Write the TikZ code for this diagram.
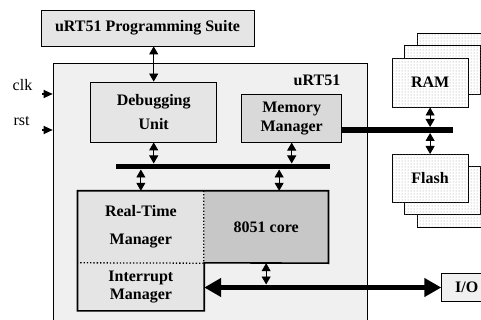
\documentclass[tikz,border=0pt]{standalone}
\usepackage{fontspec}
\setmainfont{Liberation Serif}
\usetikzlibrary{arrows.meta,patterns}

\begin{document}
\begin{tikzpicture}[x=1pt, y=-1pt, font=\fontsize{16}{18}\selectfont\bfseries,
  box/.style = {draw, line width=0.8pt, inner sep=0pt, align=center},
  part/.style = {inner sep=0pt, align=center, minimum width=126.3pt},
  chip/.style = {draw, line width=0.8pt, fill=white, postaction={pattern=dots, pattern color=black!40},
                 minimum width=76pt, minimum height=49pt, inner sep=0pt, anchor=north west},
  link/.style = {line width=0.8pt, {Triangle[width=9pt,length=8pt]}-{Triangle[width=9pt,length=8pt]}},
  bus/.style = {line width=5.5pt},
  pin/.style = {line width=1.2pt, -{Triangle[width=8pt,length=9pt]}}]
\clip (0,0) rectangle (481,320);

\node[box, fill=black!10, minimum width=213pt, minimum height=36pt] (suite) at (147.5,28) {uRT51 Programming Suite};

% the uRT51 frame
\node[draw, line width=1.6pt, fill=black!6, minimum width=314pt, minimum height=280pt, anchor=north west] (urt) at (52.7,62.7) {};
\node (title) at (317,80) {uRT51};
\node[box, fill=black!10, minimum width=126pt, minimum height=60pt] (debug) at (153.7,112) {Debugging\\[6pt]Unit};
\node[box, fill=black!15, minimum width=100pt, minimum height=48pt] (mem) at (291.7,118.2) {Memory\\[1pt]Manager};

\node[part, fill=black!11, minimum height=72pt] (rtm) at (140.85,227) {Real-Time\\[10pt]Manager};
\node[part, fill=black!22, minimum width=124.3pt, minimum height=72pt] (core) at (266.15,227) {8051 core};
\node[part, fill=black!10, minimum height=47.7pt] (irq) at (140.85,286.85) {Interrupt\\Manager};
\draw[line width=1.6pt] (rtm.north west) -- (core.north east) -- (core.south east) -- (irq.north east)
  -- (irq.south east) -- (irq.south west) -- cycle;
\draw[dotted, line width=1.3pt] (core.north west) -- (core.south west) -- (irq.north west);

% inputs
\node[font=\fontsize{16}{18}\selectfont] (clk) at (22.5,85) {clk};
\node[font=\fontsize{16}{18}\selectfont] (rst) at (21.5,121) {rst};
\coordinate (clkin) at (42,94);
\coordinate (rstin) at (42,130);
\draw[pin] (clkin) -- (clkin -| urt.west);
\draw[pin] (rstin) -- (rstin -| urt.west);

% memories
\node[chip] (ram3) at (416.7,33.3) {};
\node[chip] (ram2) at (404.3,45.5) {};
\node[chip] (ram) at (391.7,57.7) {RAM};
\node[chip, minimum height=48pt] (flash3) at (416.7,178.5) {};
\node[chip, minimum height=48pt] (flash2) at (404.3,166.2) {};
\node[chip, minimum height=48pt] (flash) at (391.7,154) {Flash};

\node[box, fill=black!6, minimum width=50pt, minimum height=28.5pt] (io) at (466.7,287.5) {I/O};

% buses
\coordinate (b1w) at (116,166.5);
\coordinate (b1e) at (330,166.5);
\coordinate (mbe) at (453.3,130);
\draw[bus] (b1w) -- (b1e);
\draw[bus] (mem.east |- mbe) -- (mbe);
\draw[bus, {Triangle[width=18pt,length=17pt]}-{Triangle[width=18pt,length=17pt]}] (irq.east |- io.west) -- (io.west);

\draw[link] (debug.north |- suite.south) -- (debug.north);
\draw[link, shorten >=3pt] (debug.south) -- (debug.south |- b1w);
\draw[link, shorten >=3pt] (mem.south) -- (mem.south |- b1w);
\draw[link, shorten <=3pt] (rtm.north |- b1w) -- (rtm.north);
\draw[link, shorten <=3pt] ([xshift=13pt]core.north |- b1w) -- ([xshift=13pt]core.north);
\draw[link, shorten >=3pt] (core.south) -- (core.south |- io.west);
\draw[link, shorten >=3pt] (ram.south) -- (ram.south |- mbe);
\draw[link, shorten <=3pt] (ram.south |- mbe) -- (flash.north);
\end{tikzpicture}
\end{document}
